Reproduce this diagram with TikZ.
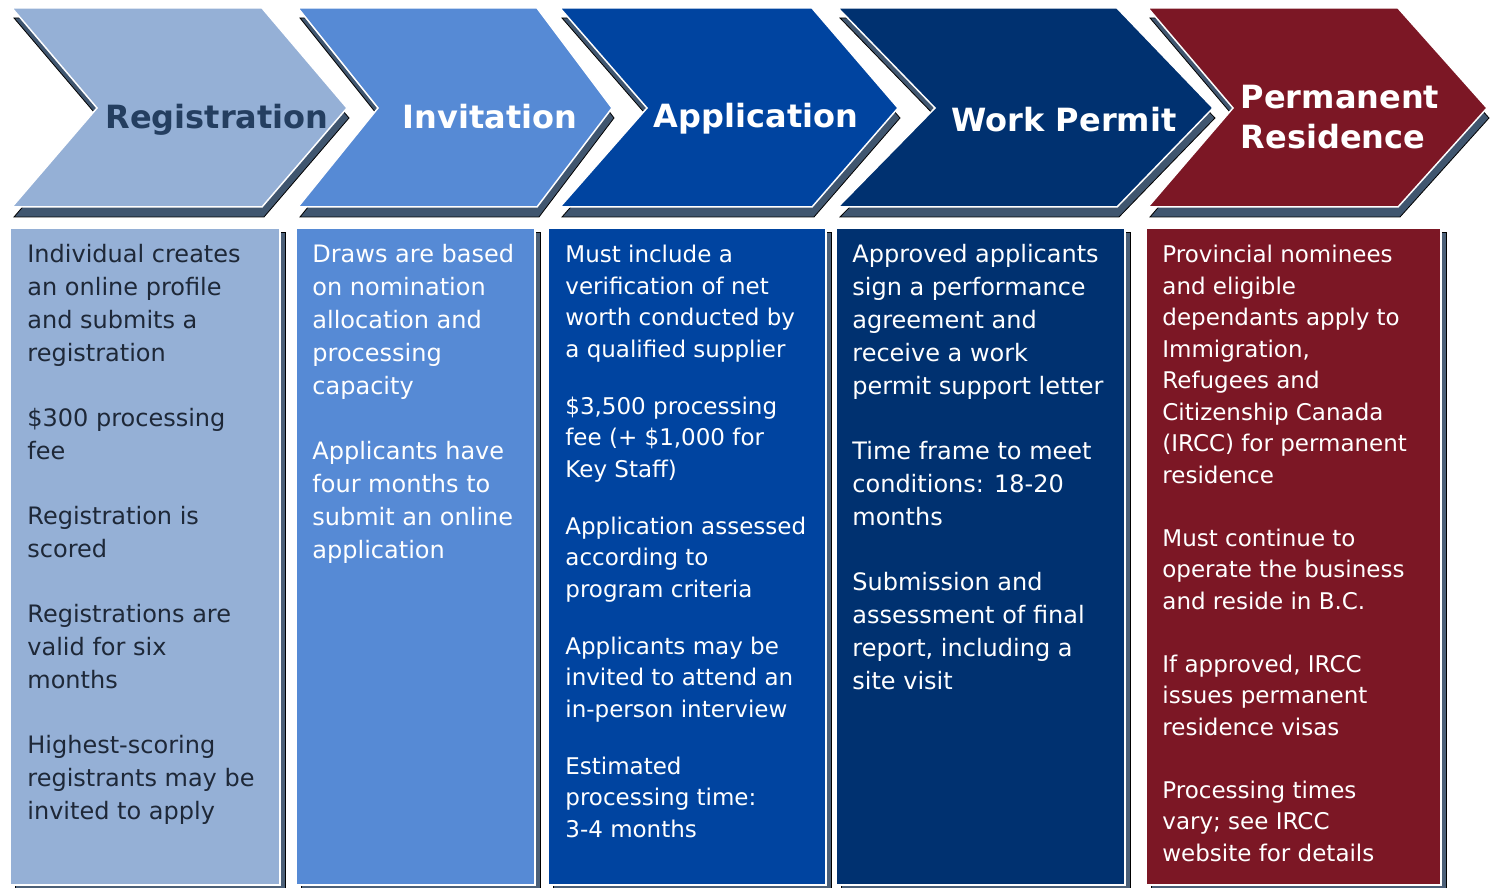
\documentclass[tikz,border=0pt]{standalone}
\usepackage{fontspec}
\setmainfont{DejaVu Sans}

\definecolor{regfill}{RGB}{149,176,214}
\definecolor{invfill}{RGB}{86,138,213}
\definecolor{appfill}{RGB}{0,68,160}
\definecolor{wpfill}{RGB}{0,49,112}
\definecolor{prfill}{RGB}{124,23,37}
\definecolor{regtitle}{RGB}{36,62,96}
\definecolor{regbody}{RGB}{30,40,56}
\definecolor{shadownavy}{RGB}{31,56,86}

\tikzset{
  chev/.style={draw=white, line width=0.75pt},
  chevshadow/.style={fill=shadownavy, fill opacity=0.85},
  panel/.style={draw=white, line width=0.75pt},
  panelshadow/.style={fill=shadownavy, fill opacity=0.8},
  stagetitle/.style={font=\bfseries\fontsize{16}{20}\selectfont, text=white, inner sep=0pt, align=left},
  bodytext/.style={anchor=north west, align=left, inner sep=0pt, text=white, font=\fontsize{12}{16.5}\selectfont},
  smalltext/.style={bodytext, font=\fontsize{11.5}{15.75}\selectfont},
}

\begin{document}
\begin{tikzpicture}[x=0.5pt,y=0.5pt,yscale=-1,xscale=1]
\useasboundingbox (0,0) rectangle (1496,888);

% chevron shadows
\draw [chevshadow] (14,18) -- (264,18) -- (349,118) -- (264,217) -- (14,217) -- (99,118) -- cycle ;
\draw [chevshadow] (300,18) -- (539,18) -- (614,118) -- (539,217) -- (300,217) -- (380,118) -- cycle ;
\draw [chevshadow] (562,18) -- (814,18) -- (900,118) -- (814,217) -- (562,217) -- (649,118) -- cycle ;
\draw [chevshadow] (840,18) -- (1119,18) -- (1215,118) -- (1119,217) -- (840,217) -- (937,118) -- cycle ;
\draw [chevshadow] (1150,18) -- (1400,18) -- (1489,118) -- (1400,217) -- (1150,217) -- (1235,118) -- cycle ;

% chevrons
\draw [chev, fill=regfill] (12,8) -- (262,8) -- (347,108) -- (262,207) -- (12,207) -- (97,108) -- cycle ;
\draw [chev, fill=invfill] (298,8) -- (537,8) -- (612,108) -- (537,207) -- (298,207) -- (378,108) -- cycle ;
\draw [chev, fill=appfill] (560,8) -- (812,8) -- (898,108) -- (812,207) -- (560,207) -- (647,108) -- cycle ;
\draw [chev, fill=wpfill] (838,8) -- (1117,8) -- (1213,108) -- (1117,207) -- (838,207) -- (935,108) -- cycle ;
\draw [chev, fill=prfill] (1148,8) -- (1398,8) -- (1487,108) -- (1398,207) -- (1148,207) -- (1233,108) -- cycle ;

% panel shadows
\draw [panelshadow] (15,232) rectangle (285,888) ;
\draw [panelshadow] (301,232) rectangle (540,888) ;
\draw [panelshadow] (553,232) rectangle (831,888) ;
\draw [panelshadow] (841,232) rectangle (1130,888) ;
\draw [panelshadow] (1151,232) rectangle (1446,888) ;

% panels
\draw [panel, fill=regfill] (10,228) rectangle (280,885) ;
\draw [panel, fill=invfill] (296,228) rectangle (535,885) ;
\draw [panel, fill=appfill] (548,228) rectangle (826,885) ;
\draw [panel, fill=wpfill] (836,228) rectangle (1125,885) ;
\draw [panel, fill=prfill] (1146,228) rectangle (1441,885) ;

% stage titles
\node (regname) [stagetitle, text=regtitle] at (217,120) {Registration};
\node (invname) [stagetitle] at (490,117) {Invitation};
\node (appname) [stagetitle] at (756,119) {Application};
\node (wpname) [stagetitle] at (1064,120) {Work Permit};
\node (prname) [stagetitle] at (1340,117) {Permanent\\Residence};

% panel texts
\node (regbodytext) [bodytext, text=regbody] at (27,244) {Individual creates\\an online profile\\and submits a\\registration\\[16pt]
\$300 processing\\fee\\[16pt]
Registration is\\scored\\[16pt]
Registrations are\\valid for six\\months\\[16pt]
Highest-scoring\\registrants may be\\invited to apply};

\node (invbodytext) [bodytext] at (312,244) {Draws are based\\on nomination\\allocation and\\processing\\capacity\\[16pt]
Applicants have\\four months to\\submit an online\\application};

\node (appbodytext) [smalltext] at (565,245) {Must include a\\verification of net\\worth conducted by\\a qualified supplier\\[12.75pt]
\$3,500 processing\\fee (+ \$1,000 for\\Key Staff)\\[12.75pt]
Application assessed\\according to\\program criteria\\[12.75pt]
Applicants may be\\invited to attend an\\in-person interview\\[12.75pt]
Estimated\\processing time:\\3-4 months};

\node (wpbodytext) [bodytext] at (852,244) {Approved applicants\\sign a performance\\agreement and\\receive a work\\permit support letter\\[16pt]
Time frame to meet\\conditions: 18-20\\months\\[16pt]
Submission and\\assessment of final\\report, including a\\site visit};

\node (prbodytext) [smalltext] at (1162,245) {Provincial nominees\\and eligible\\dependants apply to\\Immigration,\\Refugees and\\Citizenship Canada\\(IRCC) for permanent\\residence\\[15.75pt]
Must continue to\\operate the business\\and reside in B.C.\\[15.75pt]
If approved, IRCC\\issues permanent\\residence visas\\[15.75pt]
Processing times\\vary; see IRCC\\website for details};

\end{tikzpicture}
\end{document}
